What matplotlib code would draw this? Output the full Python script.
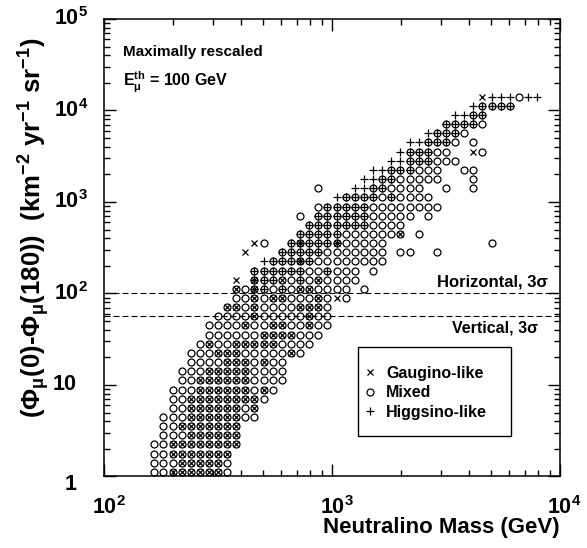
import matplotlib
matplotlib.use('Agg')
import matplotlib.pyplot as plt
from matplotlib.lines import Line2D
from matplotlib.patches import Rectangle
from matplotlib.transforms import ScaledTranslation
from matplotlib.ticker import LogLocator, NullFormatter

plt.rcParams['font.family'] = ['Liberation Sans', 'DejaVu Sans']
plt.rcParams['font.weight'] = 'bold'
plt.rcParams['mathtext.fontset'] = 'custom'
plt.rcParams['mathtext.rm'] = 'Liberation Sans:bold'
plt.rcParams['mathtext.bf'] = 'Liberation Sans:bold'
plt.rcParams['mathtext.it'] = 'Liberation Sans:bold'
plt.rcParams['mathtext.sf'] = 'Liberation Sans:bold'
plt.rcParams['mathtext.default'] = 'rm'

# ---------------- data ----------------
# neutralino mass bins (GeV)
mass_grid = [166, 182, 200, 219, 240, 263, 288, 316, 347, 380,
             417, 457, 501, 550, 603, 661, 724, 794, 871, 955,
             1047, 1148, 1259, 1380, 1514, 1660, 1820, 1995, 2188, 2399,
             2630, 2884, 3162, 3467, 3802, 4169, 4571, 5012, 5495, 6026,
             6607, 7244, 7943]
# flux-difference bins (km^-2 yr^-1 sr^-1)
flux_grid = [1.12, 1.41, 1.78, 2.24, 2.82, 3.55, 4.47, 5.62, 7.08, 8.91,
             11.2, 14.1, 17.8, 22.4, 28.2, 35.5, 44.7, 56.2, 70.8, 89.1,
             112, 141, 178, 224, 282, 355, 447, 562, 708, 891,
             1122, 1413, 1778, 2239, 2818, 3548, 4467, 5623, 7079, 8913,
             11220, 14125]
# occupancy per flux row: (row, first mass bin, cell codes)
# o = mixed, x = gaugino-like, + = higgsino-like,
# X = mixed+gaugino, P = mixed+higgsino, A = all three, ' ' = empty
occupancy = [
    (0, 0, "ooXXXXXXo"),
    (1, 0, "oooXXXXXo"),
    (2, 0, "ooXXXXXXX"),
    (3, 0, "ooXXXXXXXX"),
    (4, 1, "oooXXXXXX"),
    (5, 1, "ooXXXXXXX"),
    (6, 1, "oooXXXXXXoo"),
    (7, 2, "ooXXXXXXoX"),
    (8, 2, "ooXXXXXXXXo"),
    (9, 2, "oooXXXXXXoXo"),
    (10, 3, "ooXXXXXXoooo"),
    (11, 3, "oooXXXXXoooo"),
    (12, 4, "ooooXXXoXoo"),
    (13, 4, "oooXXXoooooXo"),
    (14, 5, "oXooXXXXXoooo"),
    (15, 6, "ooooooXXXXooo"),
    (16, 6, "ooooXooXXooXoo"),
    (17, 7, "ooooXoooooXoo"),
    (18, 8, "XXoXooooXXXo"),
    (19, 9, "ooXoXXoooXoxo"),
    (20, 9, "XoAPoPoXXoooo o"),
    (21, 9, "x APPXoPoXoooo"),
    (22, 11, "PPPPPPooPooo o"),
    (23, 12, "+PPPAPoooooooo"),
    (24, 10, "x   PPPPPooooooo oo  o"),
    (25, 11, "xo  PAPPPAooooo           o"),
    (26, 16, "PPPPPooooooX o"),
    (27, 17, "PPPPPPPoooo"),
    (28, 16, "o PPPPPPooooo o"),
    (29, 18, "oPPPPPoooooooo"),
    (30, 20, "+PPPPoPoooo"),
    (31, 18, "o   ++PPoooo  o  o"),
    (32, 23, "++PPooooo   o"),
    (33, 24, "++PPPooo  oo"),
    (34, 26, "++PPPooo"),
    (35, 27, "+PPPoo  xo"),
    (36, 28, "++PPPo o"),
    (37, 30, "+PPPo"),
    (38, 32, "PPPPo"),
    (39, 33, "++PP"),
    (40, 35, "+PPPP"),
    (41, 36, "x+++o++"),
]
horizontal_3sigma = 102
vertical_3sigma = 57

xtick_vals = [1e2, 1e3, 1e4]
xtick_labels = [r"$10^{2}$", r"$10^{3}$", r"$10^{4}$"]
ytick_vals = [1, 10, 1e2, 1e3, 1e4, 1e5]
ytick_labels = ["1", "10", r"$10^{2}$", r"$10^{3}$", r"$10^{4}$", r"$10^{5}$"]

# ---------------- build series ----------------
gx, gy, mx, my, hx, hy = [], [], [], [], [], []
for row, start, codes in occupancy:
    for j, c in enumerate(codes):
        xv = mass_grid[start + j]
        yv = flux_grid[row]
        if c in 'oXPA':
            mx.append(xv); my.append(yv)
        if c in 'xXA':
            gx.append(xv); gy.append(yv)
        if c in '+PA':
            hx.append(xv); hy.append(yv)

# ---------------- figure ----------------
fig = plt.figure(figsize=(5.87, 5.48), dpi=100)
ax = fig.add_axes([0.1772, 0.1305, 0.7768, 0.8349])
ax.set_xscale('log')
ax.set_yscale('log')
ax.set_xlim(1e2, 1e4)
ax.set_ylim(1, 1e5)

ms = 5.0
mew = 0.9
ax.plot(mx, my, ls='none', marker='o', ms=ms, mfc='none', mec='black', mew=mew)
ax.plot(gx, gy, ls='none', marker='x', ms=ms, mec='black', mew=mew)
ax.plot(hx, hy, ls='none', marker='+', ms=ms + 1.2, mec='black', mew=mew)

ax.axhline(horizontal_3sigma, color='black', lw=0.8, ls=(0, (5.4, 2.7)))
ax.axhline(vertical_3sigma, color='black', lw=0.8, ls=(0, (5.4, 2.7)))

for s in ax.spines.values():
    s.set_linewidth(1.1)
ax.xaxis.set_minor_locator(LogLocator(base=10, subs=range(2, 10), numticks=20))
ax.yaxis.set_minor_locator(LogLocator(base=10, subs=range(2, 10), numticks=20))
ax.xaxis.set_minor_formatter(NullFormatter())
ax.yaxis.set_minor_formatter(NullFormatter())
ax.tick_params(which='both', direction='in', top=True, right=True,
               labelbottom=False, labelleft=False, width=1.0)
ax.tick_params(which='major', length=8.6)
ax.tick_params(which='minor', length=4.2)

# tick labels
xoff = ScaledTranslation(0.045, 0, fig.dpi_scale_trans)
for v, lab in zip(xtick_vals, xtick_labels):
    ax.text(v, -0.067, lab, transform=ax.get_xaxis_transform() + xoff,
            ha='center', va='center', fontsize=15.5, fontweight='bold')
for v, lab in zip(ytick_vals, ytick_labels):
    if lab.startswith('$'):
        ax.text(-0.035, v, lab, transform=ax.get_yaxis_transform(),
                ha='right', va='center', fontsize=15.5, fontweight='bold')
    else:
        dy = -0.08 if lab == "1" else 0.0
        ax.text(-0.059, v, lab,
                transform=ax.get_yaxis_transform() + ScaledTranslation(0, dy, fig.dpi_scale_trans),
                ha='right', va='center', fontsize=15.5, fontweight='bold')

# axis titles
fig.text(560 / 587, 1 - 528 / 548, "Neutralino Mass (GeV)", ha='right', va='center',
         fontsize=16, fontweight='bold')
fig.text(34 / 587, 1 - 228 / 548,
         r"(Φ$_{\mu}$(0)-Φ$_{\mu}$(180))  (km$^{-2}$ yr$^{-1}$ sr$^{-1}$)",
         rotation=90, ha='center', va='center', fontsize=18.5, fontweight='bold')

# annotations
ax.text(0.042, 0.928, "Maximally rescaled", transform=ax.transAxes, ha='left', va='center',
        fontsize=11, fontweight='bold')
ax.text(0.042, 0.862, r"$\mathbf{E}_{\mu}^{\mathbf{th}}$ = 100 GeV", transform=ax.transAxes,
        ha='left', va='center', fontsize=11.5, fontweight='bold')
ax.text(0.974, 0.426, "Horizontal, 3σ", transform=ax.transAxes, ha='right', va='center',
        fontsize=12, fontweight='bold')
ax.text(0.952, 0.325, "Vertical, 3σ", transform=ax.transAxes, ha='right', va='center',
        fontsize=11.5, fontweight='bold')

# legend box + entries
ax.add_patch(Rectangle((0.557, 0.0885), 0.335, 0.1955, transform=ax.transAxes,
                       facecolor='white', edgecolor='black', lw=1.0, zorder=4))
handles = [Line2D([], [], ls='none', marker='x', ms=ms, mec='black', mew=mew),
           Line2D([], [], ls='none', marker='o', ms=ms, mfc='none', mec='black', mew=mew),
           Line2D([], [], ls='none', marker='+', ms=ms + 1.2, mec='black', mew=mew)]
leg = ax.legend(handles, ["Gaugino-like", "Mixed", "Higgsino-like"],
                loc='center left', bbox_to_anchor=(0.5732, 0.1832), frameon=False,
                handlelength=0.6, handletextpad=0.7, labelspacing=0.28,
                borderpad=0, borderaxespad=0, prop={'weight': 'bold', 'size': 11.5})
leg.set_zorder(5)

fig.savefig('out.png', dpi=100)
